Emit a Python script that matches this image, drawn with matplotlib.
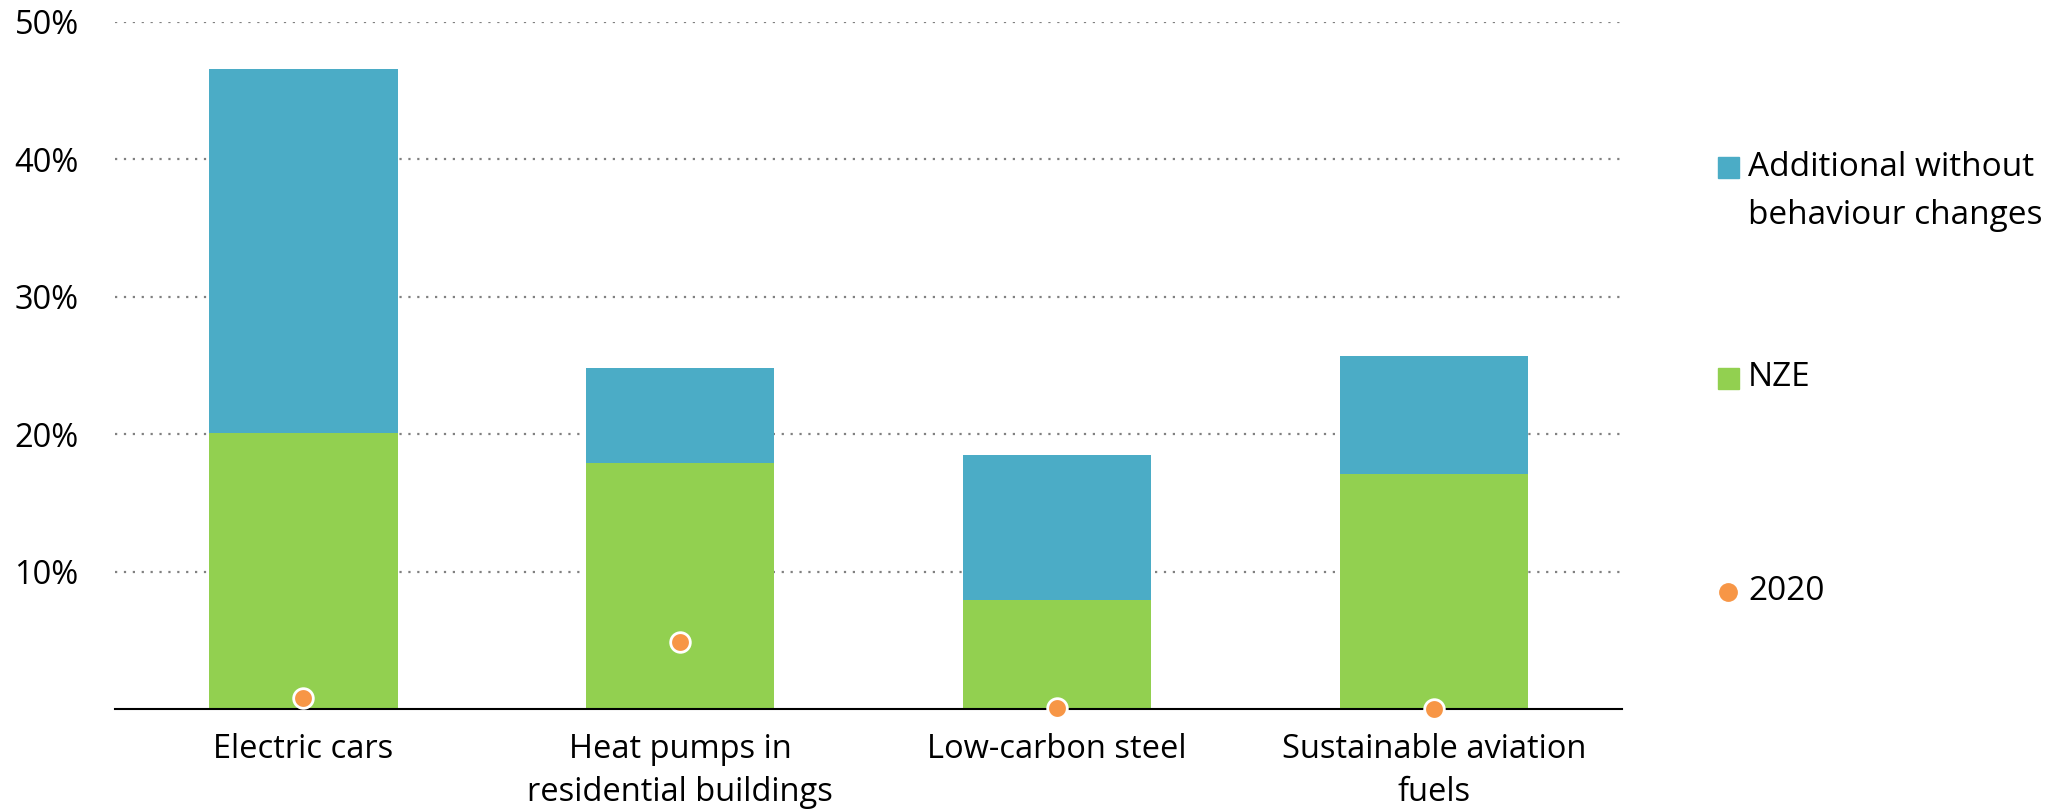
import matplotlib
matplotlib.use("Agg")
import matplotlib.pyplot as plt
from matplotlib.patches import Rectangle
from matplotlib.lines import Line2D

plt.rcParams['font.family'] = ['Open Sans', 'DejaVu Sans']

# data (% share)
categories = ["Electric cars", "Heat pumps in\nresidential buildings",
              "Low-carbon steel", "Sustainable aviation\nfuels"]
nze = [20.1, 17.9, 7.9, 17.1]
additional = [26.5, 6.9, 10.6, 8.6]
y2020 = [0.8, 4.9, 0.1, 0.0]
yticks = [10, 20, 30, 40, 50]
ytick_labels = ["10%", "20%", "30%", "40%", "50%"]

col_add = "#4BACC6"
col_nze = "#92D050"
col_2020 = "#F79646"

fig = plt.figure(figsize=(20.51, 8.09), dpi=100)
ax = fig.add_axes([0.056, 0.1236, 0.735, 0.8494])

x = range(len(categories))
ax.bar(x, nze, width=0.5, color=col_nze, zorder=2)
ax.bar(x, additional, width=0.5, bottom=nze, color=col_add, zorder=2)
ax.scatter(x, y2020, s=200, color=col_2020, edgecolor="white", linewidth=2, zorder=4, clip_on=False)

ax.set_xlim(-0.5, 3.5)
ax.set_ylim(0, 50)
ax.set_yticks(yticks)
ax.set_yticklabels(ytick_labels)
ax.set_xticks(list(x))
ax.set_xticklabels(categories, linespacing=1.4)
ax.tick_params(axis="both", length=0, labelsize=23.5)
ax.tick_params(axis="y", pad=26)
ax.tick_params(axis="x", pad=17)
ax.grid(axis="y", linestyle=(0, (1, 3)), color="#808080", linewidth=1.6, zorder=1)
for s in ["top", "right", "left"]:
    ax.spines[s].set_visible(False)
ax.spines["bottom"].set_linewidth(1.5)
ax.spines["bottom"].set_zorder(3)

# legend drawn by hand
W, H = 2051, 809
def fx(px):
    return px / W
def fy(py):
    return 1 - py / H

sq = 21
for py, c in [(167, col_add), (378, col_nze)]:
    fig.patches.append(Rectangle((fx(1718), fy(py + sq / 2)), sq / W, sq / H,
                                 transform=fig.transFigure, color=c))
fig.add_artist(Line2D([fx(1728)], [fy(592)], marker="o", markersize=12.5, color=col_2020,
                      linestyle="none", transform=fig.transFigure))
fig.text(fx(1748), fy(191), "Additional without\nbehaviour changes", fontsize=24,
         va="center", ha="left", linespacing=1.6)
fig.text(fx(1748), fy(378), "NZE", fontsize=24, va="center", ha="left")
fig.text(fx(1748), fy(592), "2020", fontsize=24, va="center", ha="left")

fig.savefig("out.png", dpi=100)
